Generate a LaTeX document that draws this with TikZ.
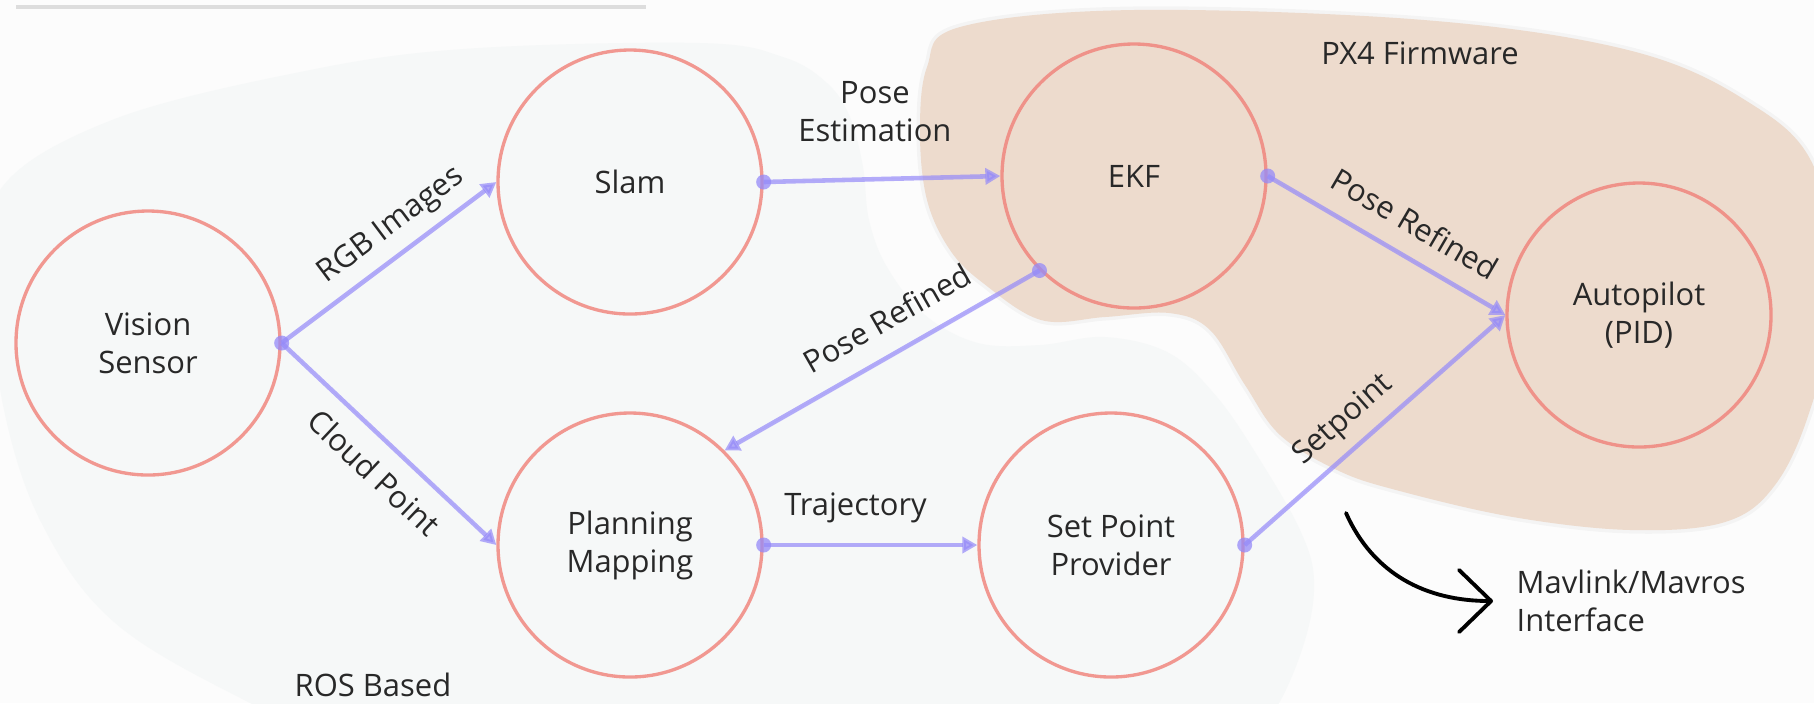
\documentclass[tikz,border=0pt]{standalone}
\usepackage{fontspec}
\setmainfont{Open Sans}
\usepackage{tikz}
\usetikzlibrary{arrows.meta, positioning, calc}
\definecolor{mydark}{RGB}{40,40,40}
\definecolor{mysalmon}{RGB}{240,128,120}
\definecolor{mylavender}{RGB}{149,138,249}
\definecolor{mybg}{RGB}{252,252,252}
\definecolor{rosbg}{RGB}{246,248,248}
\definecolor{pxbg}{RGB}{237,219,205}
\definecolor{mygray}{RGB}{221,221,221}
\tikzset{
  block/.style={circle, draw=mysalmon, draw opacity=0.8, line width=0.95pt,
    minimum size=2.64cm, inner sep=0pt, align=center,
    font=\fontsize{8.8}{10.8}\selectfont, text=mydark},
  flowarrow/.style={-{Triangle[length=0.15cm, width=0.16cm]}, line width=1.3pt,
    draw=mylavender, draw opacity=0.7, fill=mylavender, fill opacity=0.7},
  tapdot/.style={fill=mylavender, fill opacity=0.75},
  lbl/.style={font=\fontsize{8.8}{10.8}\selectfont, text=mydark, inner sep=1pt,
    fill opacity=1, text opacity=1},
  bendarrow/.style={-{Straight Barb[length=0.32cm, width=0.62cm, round]},
    line width=1.1pt, line cap=round, color=black}
}
\begin{document}
\begin{tikzpicture}
  \useasboundingbox (0,0) rectangle (18.14,-7.03);
  \fill[mybg] (0,0) rectangle (18.14,-7.03);

  % Background regions
  \begin{scope}
    \clip (0,0) rectangle (18.14,-7.03);
    \fill[rosbg] plot[smooth cycle, tension=0.6] coordinates {
      (0,-1.90) (1.12,-1.20) (3.00,-0.72) (4.63,-0.49) (7.00,-0.43)
      (7.83,-0.57) (8.27,-0.83) (8.50,-1.17) (8.63,-1.67) (8.69,-2.20)
      (8.87,-2.67) (9.25,-3.15) (9.78,-3.43) (10.40,-3.45) (11.05,-3.37)
      (11.69,-3.53) (12.17,-3.97) (12.60,-4.60) (13.00,-5.30) (13.14,-5.80)
      (13.05,-6.40) (12.75,-7.10) (12.30,-7.60) (4.00,-7.70) (2.50,-7.03)
      (1.14,-6.22) (0.40,-5.20) (0.02,-4.00) (-0.05,-2.90)};
    \fill[pxbg, preaction={draw=black, draw opacity=0.03, line width=2pt}]
      plot[smooth cycle, tension=0.6] coordinates {
      (9.20,-1.33) (9.27,-0.67) (9.60,-0.27) (11.33,-0.10) (14.24,-0.20)
      (16.28,-0.50) (17.45,-1.00) (18.14,-1.67) (18.35,-3.00) (18.10,-4.10)
      (17.75,-4.85) (17.25,-5.22) (16.31,-5.30) (15.13,-5.17) (13.96,-4.90)
      (13.37,-4.70) (12.80,-4.35) (12.45,-3.85) (12.10,-3.30) (11.69,-3.13)
      (11.05,-3.17) (10.41,-3.20) (9.83,-2.83) (9.50,-2.50) (9.27,-2.00)};
  \end{scope}
  \draw[mygray, line width=0.04cm] (0.16,-0.07) -- (6.46,-0.07);

  % Region labels
  \node[lbl] (px4) at (14.20,-0.53) {PX4 Firmware};
  \node[lbl] (ros) at (3.73,-6.85) {ROS Based};

  % Nodes
  \node[block] (vision) at (1.48,-3.43) {Vision\\Sensor};
  \node[block] (slam) at (6.30,-1.82) {Slam};
  \node[block] (ekf) at (11.34,-1.76) {EKF};
  \node[block] (auto) at (16.39,-3.15) {Autopilot\\(PID)};
  \node[block] (plan) at (6.30,-5.45) {Planning\\Mapping};
  \node[block] (setp) at (11.11,-5.45) {Set Point\\Provider};

  % Connections
  \draw[flowarrow] (vision.east) -- node[lbl, sloped, above=2pt, pos=0.59] (rgb) {RGB Images} (slam.west);
  \draw[flowarrow] (vision.east) -- node[lbl, sloped, below=3.8pt, pos=0.53] (cloud) {Cloud Point} (plan.west);
  \draw[flowarrow] (slam.east) -- node[lbl, align=center, above=9pt, pos=0.47] (poseest) {Pose\\Estimation} (ekf.west);
  \draw[flowarrow] (ekf.east) -- node[lbl, sloped, above=4.4pt, pos=0.55] (refa) {Pose Refined} (auto.west);
  \draw[flowarrow] (ekf.225) -- node[lbl, sloped, above=4.7pt, pos=0.43] (refb) {Pose Refined} (plan.north east);
  \draw[flowarrow] (plan.east) -- node[lbl, above=4.5pt, pos=0.43] (traj) {Trajectory} (setp.west);
  \draw[flowarrow] (setp.east) -- node[lbl, sloped, above=2.1pt, pos=0.45] (setpt) {Setpoint} (auto.west);

  % Connection dots
  \foreach \p in {vision.east, slam.east, ekf.east, ekf.225, plan.east, setp.east}
    \fill[tapdot] (\p) circle (0.075);

  % Interface note
  \node[lbl, align=left, anchor=west, inner xsep=0.23cm] (mavlink) at (14.93,-6.01) {Mavlink/Mavros\\Interface};
  \coordinate (bendstart) at (13.46,-5.13);
  \draw[bendarrow] (bendstart) to[out=-66, in=180] (mavlink.west);
\end{tikzpicture}
\end{document}
